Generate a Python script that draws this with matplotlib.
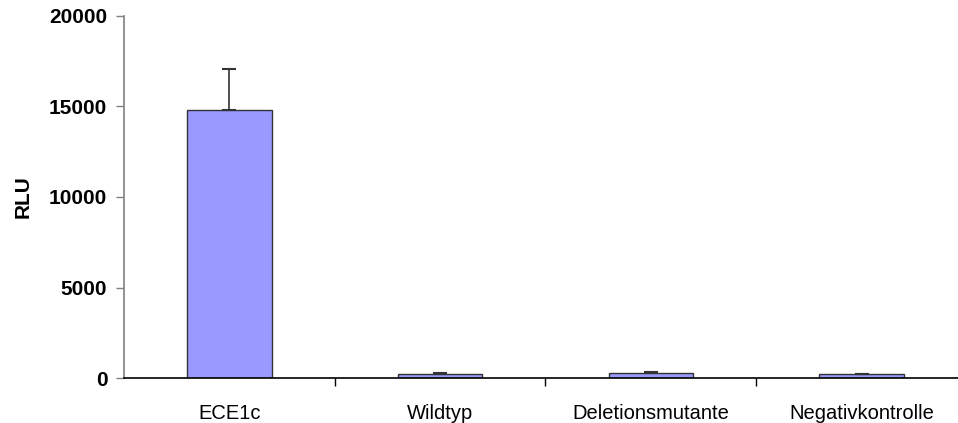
import numpy as np
import matplotlib.pyplot as plt

plt.rcParams['font.family'] = ['Liberation Sans', 'DejaVu Sans']

categories = ["ECE1c", "Wildtyp", "Deletionsmutante", "Negativkontrolle"]
rlu = [14780, 210, 270, 210]
rlu_err = [2300, 40, 55, 35]

fig = plt.figure(figsize=(9.58, 4.23), dpi=100)
# axes runs past the right edge, as in the cropped original
ax = fig.add_axes([124 / 958, 45 / 423, 843 / 958, 362 / 423])

x = np.arange(len(categories))
ax.bar(x, rlu, width=0.4, color="#9999FF", edgecolor="#333333", linewidth=1.0,
       zorder=2)
ax.errorbar(x, rlu, yerr=[np.zeros(len(rlu)), rlu_err], fmt="none",
            ecolor="#333333", elinewidth=1.2, capsize=5, capthick=1.5, zorder=3)

ax.set_xlim(-0.5, len(categories) - 0.5)
ax.set_ylim(0, 20000)
ax.set_yticks([0, 5000, 10000, 15000, 20000])
ax.set_ylabel("RLU", fontsize=15, fontweight="bold", labelpad=12)

ax.set_xticks(x)
ax.set_xticklabels(categories, fontsize=14.5)
ax.set_xticks(np.arange(0.5, len(categories) - 0.5, 1), minor=True)
ax.tick_params(axis="x", which="major", length=0, pad=19)
ax.tick_params(axis="x", which="minor", length=6, width=1.0, color="black",
               direction="out")
ax.tick_params(axis="y", length=6, width=1.0, color="#808080", labelsize=15,
               pad=6)
for lab in ax.get_yticklabels():
    lab.set_fontweight("bold")

ax.spines["top"].set_visible(False)
ax.spines["right"].set_visible(False)
ax.spines["left"].set_color("#808080")
ax.spines["left"].set_linewidth(1.2)
ax.spines["bottom"].set_color("black")
ax.spines["bottom"].set_linewidth(1.2)

plt.savefig("out.png", dpi=100)
